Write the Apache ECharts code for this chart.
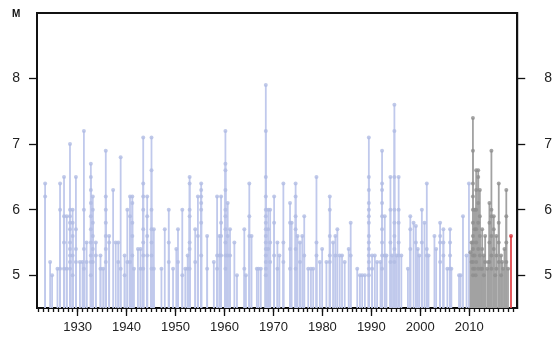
<!DOCTYPE html>
<html>
<head>
<meta charset="utf-8">
<script src="https://cdn.jsdelivr.net/npm/echarts@6/dist/echarts.min.js"></script>
<style>
  html, body { margin: 0; padding: 0; background: #fff; }
  #chart { width: 555px; height: 338px; }
</style>
</head>
<body>
<div id="chart"></div>
<script>
// each stem: [decimal year, magnitudes of the events at that time...]
const blueStems = [
  [1923.36, 6.4, 6.2], [1924.38, 5.2], [1924.78, 5.0], [1925.88, 5.1],
  [1926.41, 6.4, 6.0, 5.1], [1927.22, 6.5, 5.9, 5.5, 5.1], [1927.77, 5.9, 5.1],
  [1928.44, 7.0, 6.0, 5.9, 5.8, 5.7, 5.5, 5.4, 5.3, 5.2, 5.1],
  [1928.98, 6.0, 5.8, 5.6, 5.3, 5.0], [1929.65, 6.5, 5.7, 5.4, 5.2],
  [1930.47, 5.2], [1931.0, 5.2], [1931.28, 7.2, 6.0, 5.4, 5.1], [1931.83, 5.5, 5.2],
  [1932.7, 6.7, 6.5, 6.3, 6.1, 5.9, 5.7, 5.5, 5.3, 5.2, 5.0],
  [1933.1, 6.2, 6.0, 5.8, 5.6, 5.4, 5.2], [1933.72, 5.5, 5.3], [1934.67, 5.3, 5.1],
  [1935.22, 5.1], [1935.75, 6.9, 6.2, 6.0, 5.8, 5.6, 5.4, 5.2], [1936.44, 5.6, 5.5],
  [1937.25, 6.3], [1937.78, 5.5], [1938.3, 5.5, 5.2], [1938.79, 6.8, 5.1],
  [1939.6, 5.3, 5.0], [1940.15, 6.0, 5.2], [1940.7, 6.2, 5.9, 5.2],
  [1941.17, 6.2, 6.1, 5.8, 5.6, 5.3], [1941.51, 5.1], [1942.32, 5.4], [1942.85, 5.4, 5.1],
  [1943.4, 7.1, 6.4, 6.2, 6.0, 5.7, 5.5, 5.3, 5.1], [1944.21, 6.2, 5.9, 5.6, 5.3],
  [1945.09, 7.1, 6.6, 6.0, 5.7, 5.5, 5.3, 5.1], [1945.57, 5.7, 5.1],
  [1947.12, 5.1], [1947.8, 5.7], [1948.62, 6.0, 5.5, 5.2], [1949.49, 5.1],
  [1950.16, 5.4], [1950.5, 5.7, 5.2], [1951.38, 6.0, 5.0], [1951.99, 5.1],
  [1952.48, 5.3, 5.1], [1952.88, 6.5, 6.4, 6.0, 5.9, 5.5, 5.4, 5.1],
  [1954.02, 5.7, 5.2], [1954.57, 6.2, 5.6], [1955.24, 6.4, 6.3, 6.2, 6.1, 6.0, 5.8, 5.3],
  [1956.46, 5.6, 5.1], [1957.82, 5.2], [1958.49, 6.2, 5.3, 5.1], [1958.98, 5.6, 5.3],
  [1959.3, 6.2, 5.8, 5.6, 5.3],
  [1960.19, 7.2, 6.7, 6.6, 6.3, 6.0, 5.9, 5.7, 5.5, 5.3, 5.1],
  [1960.66, 6.1, 5.6, 5.3], [1961.13, 5.7, 5.3], [1962.02, 5.5], [1962.55, 5.0],
  [1964.05, 5.7, 5.1], [1964.38, 5.0], [1965.07, 6.4, 5.9, 5.6], [1965.53, 5.6],
  [1966.61, 5.1], [1966.95, 5.1], [1967.42, 5.1],
  [1968.44, 7.9, 7.2, 6.5, 6.2, 6.0, 5.9, 5.8, 5.7, 5.6, 5.5, 5.4, 5.3, 5.2, 5.1, 5.0],
  [1968.93, 6.0, 5.7, 5.4], [1969.33, 6.0, 5.5, 5.2], [1970.14, 6.2, 5.8, 5.3],
  [1970.81, 5.5, 5.1], [1971.22, 5.3], [1972.03, 6.4, 5.5, 5.2],
  [1973.39, 6.1, 5.8, 5.4, 5.1], [1973.72, 5.8], [1974.53, 6.4, 6.2, 5.9, 5.7, 5.4, 5.1],
  [1974.93, 5.6], [1975.42, 5.5, 5.2], [1975.89, 5.6], [1976.29, 5.9, 5.3],
  [1977.11, 5.1], [1977.66, 5.1], [1978.12, 5.1], [1978.79, 6.5, 5.5, 5.3],
  [1979.48, 5.2], [1979.95, 5.4], [1980.82, 5.2], [1981.51, 6.2, 6.0, 5.6, 5.3, 5.2],
  [1982.18, 5.5], [1982.65, 5.6, 5.3], [1983.06, 5.7], [1983.54, 5.3], [1984.01, 5.3],
  [1984.56, 5.2], [1985.37, 5.4], [1985.78, 5.8, 5.3], [1987.12, 5.1],
  [1987.67, 5.0], [1988.13, 5.0], [1988.68, 5.0],
  [1989.49, 7.1, 6.5, 6.3, 6.1, 6.0, 5.9, 5.8, 5.6, 5.5, 5.4, 5.3, 5.2, 5.1, 5.0],
  [1990.16, 5.3, 5.1], [1990.71, 5.3], [1991.18, 5.2], [1991.87, 5.2],
  [1992.19, 6.9, 6.4, 6.3, 6.1, 5.9, 5.7, 5.5, 5.3, 5.1], [1992.74, 5.9, 5.3],
  [1993.09, 5.3], [1993.9, 6.5, 6.0, 5.5, 5.2], [1994.22, 5.3],
  [1994.71, 7.6, 7.2, 6.5, 6.0, 5.8, 5.6, 5.4, 5.2], [1995.12, 5.3],
  [1995.58, 6.5, 6.0, 5.8, 5.5, 5.3], [1996.13, 5.3], [1997.47, 5.1],
  [1997.96, 5.9, 5.7, 5.4], [1998.63, 5.8], [1999.1, 5.75, 5.5], [1999.5, 5.4],
  [1999.79, 5.3], [2000.32, 6.0, 5.5], [2000.86, 5.8], [2001.33, 6.4, 5.4, 5.3],
  [2001.68, 5.3], [2002.89, 5.6], [2003.24, 5.4], [2004.05, 5.8, 5.6, 5.5, 5.2],
  [2004.72, 5.7, 5.5, 5.3], [2005.53, 5.1], [2006.08, 5.7, 5.5, 5.3, 5.1],
  [2006.35, 5.1], [2007.91, 5.0], [2008.23, 5.0], [2008.72, 5.9], [2009.45, 5.3],
  [2009.94, 6.4]
];
const greyStems = [
  [2010.26, 5.35], [2010.47, 5.5, 5.2],
  [2010.75, 7.4, 6.9, 6.4, 6.2, 6.0, 5.8, 5.6, 5.5, 5.4, 5.3, 5.2, 5.1, 5.0],
  [2011.1, 6.0, 5.7, 5.3, 5.1], [2011.3, 5.0], [2011.42, 6.6, 6.3, 6.0, 5.7, 5.5, 5.2],
  [2011.83, 6.6, 6.5, 6.1, 5.8, 5.4, 5.1], [2012.17, 6.3, 5.9, 5.6, 5.3],
  [2012.4, 5.1], [2012.64, 5.7, 5.4, 5.1], [2012.99, 5.3, 5.0], [2013.25, 5.6, 5.2],
  [2013.66, 5.1], [2013.9, 5.2], [2014.12, 6.1, 5.8, 5.5, 5.2],
  [2014.53, 6.9, 6.0, 5.9, 5.6, 5.3, 5.1], [2015.01, 5.9, 5.7, 5.4], [2015.3, 5.0],
  [2015.54, 5.6, 5.3, 5.1], [2016.03, 6.4, 5.8, 5.5, 5.2], [2016.5, 5.3, 5.0],
  [2016.7, 5.2], [2016.9, 5.1], [2017.2, 5.4], [2017.57, 6.3, 5.9, 5.5, 5.2],
  [2017.92, 5.1]
];
const redStems = [[2018.53, 5.6]];

const magTicks = [5, 6, 7, 8];
const yearLabels = [1930, 1940, 1950, 1960, 1970, 1980, 1990, 2000, 2010];
const yearTicks = [];
for (let y = 1922; y <= 2019; y++) yearTicks.push(y);

const X_MIN = 1921.7, X_MAX = 2019.8, Y_MIN = 4.5, Y_MAX = 9;

// stems -> [year, magnitude] points
function toPoints(stems) {
  const out = [];
  stems.forEach(s => {
    for (let i = 1; i < s.length; i++) out.push([s[0], s[i]]);
  });
  return out;
}

function stemSeries(points, color) {
  return {
    type: 'custom',
    silent: true,
    z: 2,
    renderItem: (params, api) => {
      const top = api.coord([api.value(0), api.value(1)]);
      const bot = api.coord([api.value(0), Y_MIN]);
      return {
        type: 'line',
        shape: { x1: top[0], y1: top[1], x2: bot[0], y2: bot[1] },
        style: { stroke: color, lineWidth: 1.8 }
      };
    },
    encode: { x: 0, y: 1 },
    data: points
  };
}

function dotSeries(points, color) {
  return {
    type: 'scatter',
    silent: true,
    z: 3,
    symbol: 'circle',
    symbolSize: 4,
    itemStyle: { color: color },
    data: points
  };
}

const bluePts = toPoints(blueStems);
const greyPts = toPoints(greyStems);
const redPts = toPoints(redStems);

const font = 'Liberation Sans';

const chart = echarts.init(document.getElementById('chart'), null, { renderer: 'canvas' });
chart.setOption({
  animation: false,
  backgroundColor: '#fff',
  grid: {
    left: 37, right: 35, top: 13, bottom: 30,
    show: true, borderColor: '#111', borderWidth: 2
  },
  xAxis: [
    {
      type: 'value', min: X_MIN, max: X_MAX,
      axisLine: { show: true, lineStyle: { color: '#111', width: 2 } },
      axisTick: { show: true, length: 4, lineStyle: { color: '#111', width: 1.3 }, customValues: yearTicks },
      axisLabel: { show: false },
      splitLine: { show: false }
    },
    {
      type: 'value', min: X_MIN, max: X_MAX, position: 'bottom',
      axisLine: { show: false },
      axisTick: { show: true, length: 8, lineStyle: { color: '#111', width: 1.3 }, customValues: yearLabels },
      axisLabel: {
        show: true, customValues: yearLabels, margin: 13,
        formatter: v => String(Math.round(v)),
        color: '#222', fontSize: 13, fontFamily: font
      },
      splitLine: { show: false }
    }
  ],
  yAxis: [
    {
      type: 'value', min: Y_MIN, max: Y_MAX, position: 'left',
      axisLine: { show: true, lineStyle: { color: '#111', width: 2 } },
      axisTick: { show: true, length: 8, lineStyle: { color: '#111', width: 1.3 }, customValues: magTicks },
      axisLabel: { customValues: magTicks, margin: 17, color: '#222', fontSize: 14, fontFamily: font },
      splitLine: { show: false }
    },
    {
      type: 'value', min: Y_MIN, max: Y_MAX, position: 'right',
      axisLine: { show: true, lineStyle: { color: '#111', width: 2 } },
      axisTick: { show: true, length: 8, lineStyle: { color: '#111', width: 1.3 }, customValues: magTicks },
      axisLabel: { customValues: magTicks, margin: 27, color: '#222', fontSize: 14, fontFamily: font },
      splitLine: { show: false }
    }
  ],
  graphic: [
    {
      type: 'text', left: 12, top: 9,
      style: { text: 'M', fill: '#111', font: 'bold 10px ' + font }
    }
  ],
  series: [
    stemSeries(bluePts, '#c0c9ec'),
    stemSeries(greyPts, '#a2a2a2'),
    stemSeries(redPts, '#e0474c'),
    dotSeries(bluePts, '#b0bbe4'),
    dotSeries(greyPts, '#8e8e8e'),
    dotSeries(redPts, '#d8323a')
  ]
});
</script>
</body>
</html>
